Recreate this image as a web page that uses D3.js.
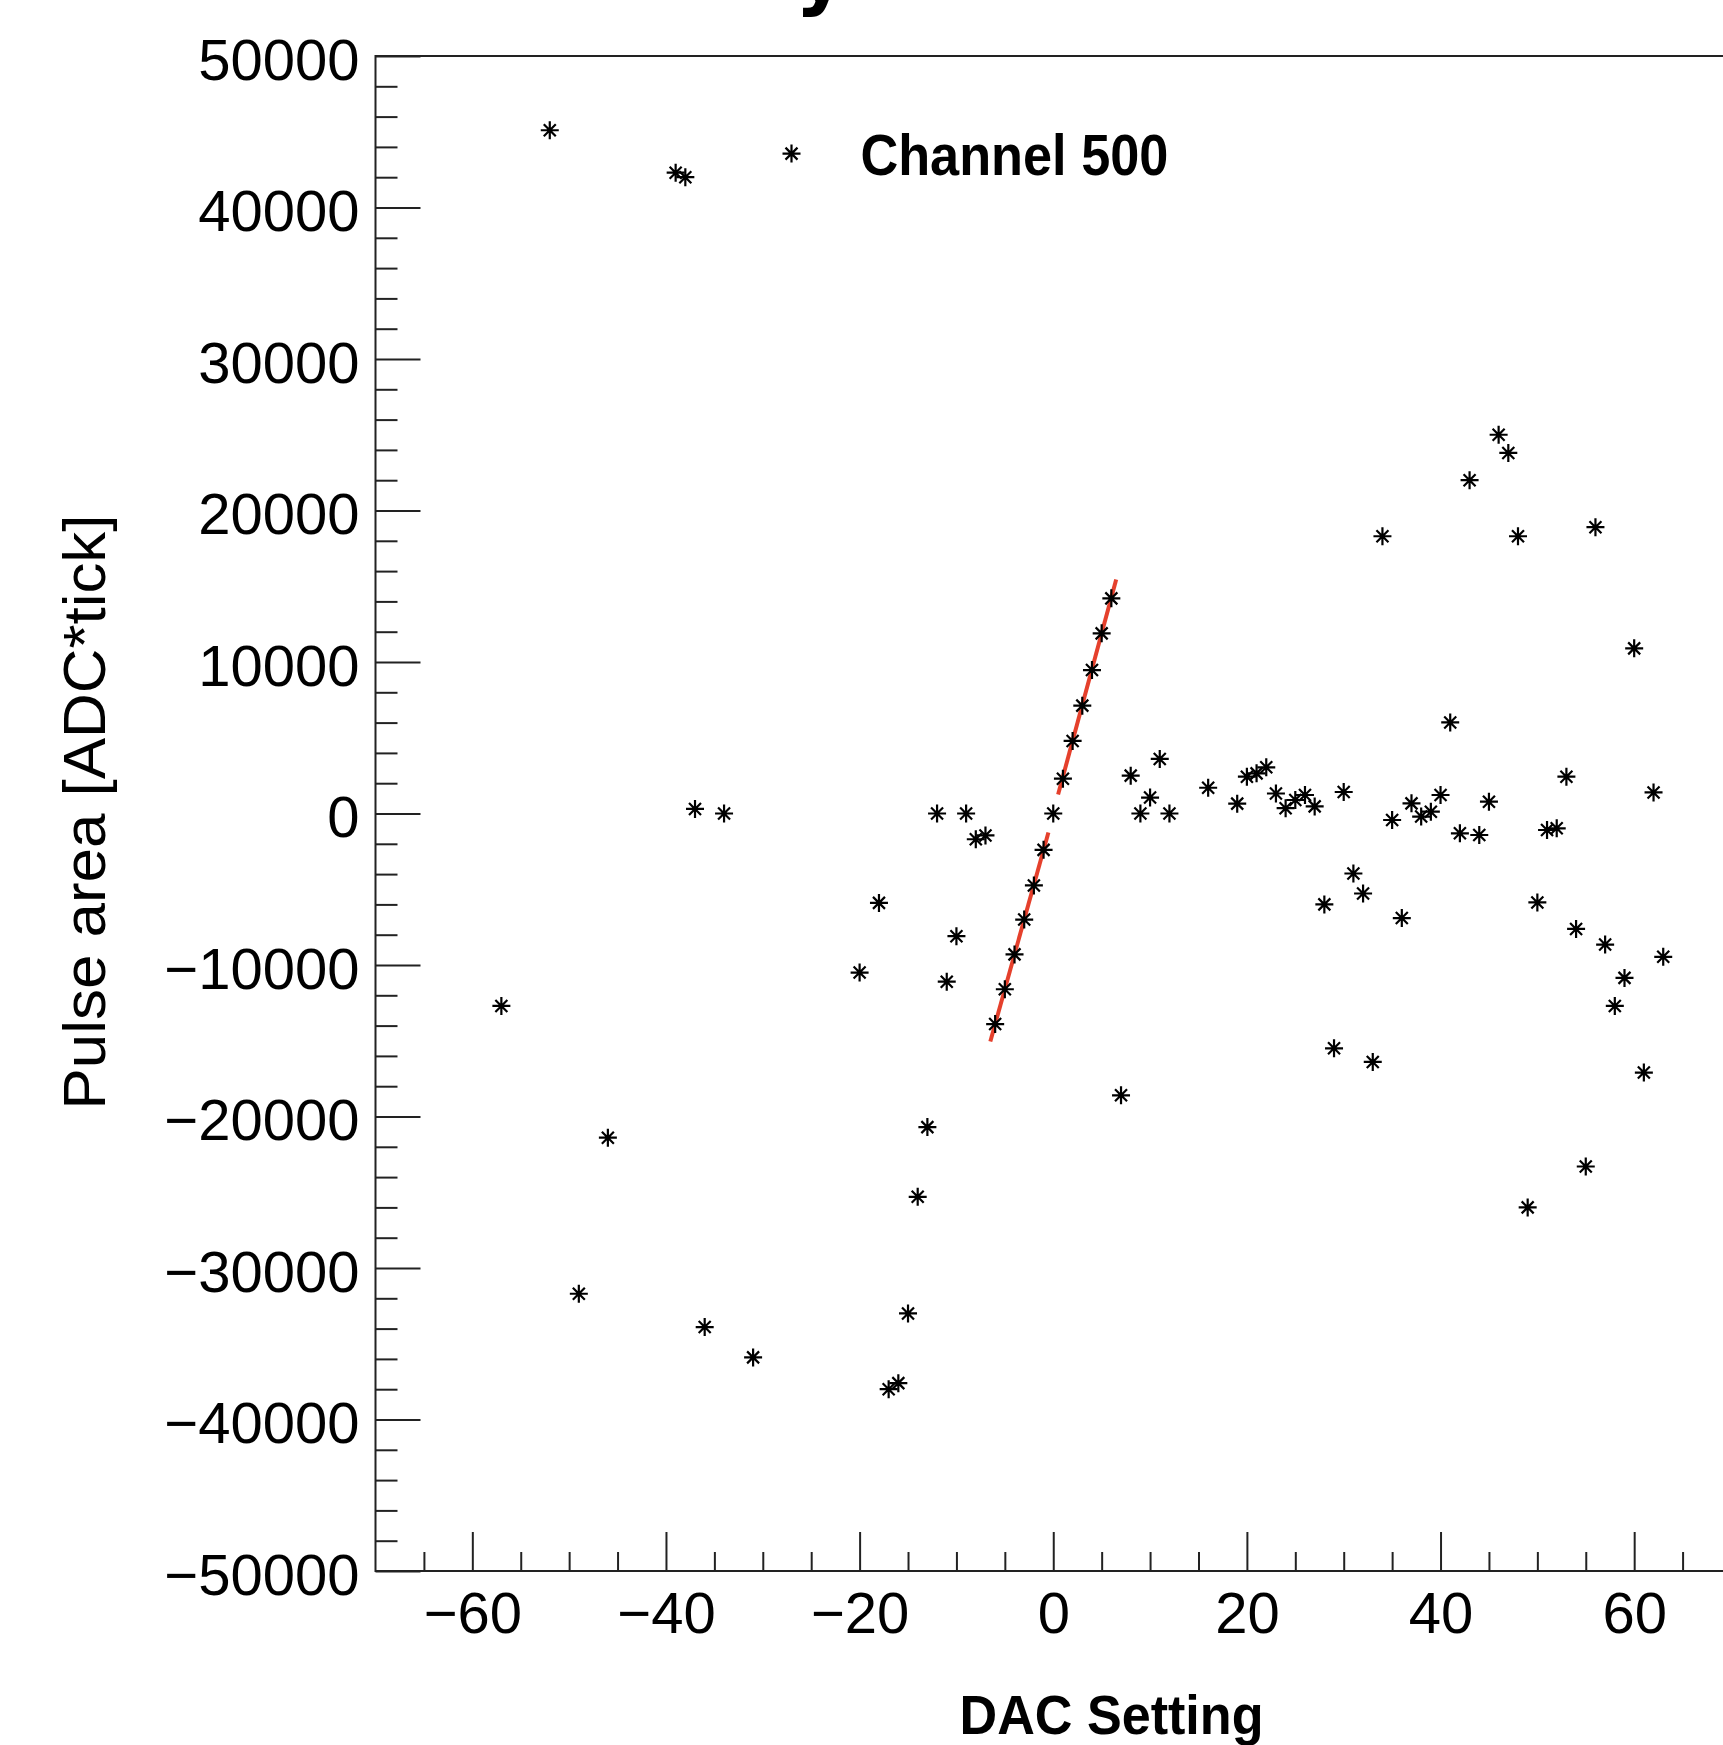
<!DOCTYPE html>
<html><head><meta charset="utf-8">
<script src="https://cdn.jsdelivr.net/npm/d3@7"></script>
<style>body{margin:0;background:#fff}</style>
</head><body>
<svg id="c" width="1723" height="1745"></svg>
<script>
// ---- data ----
const dacSetting = [-57,-52,-49,-46,-39,-38,-37,-36,-34,-31,-20,-18,-17,-16,-15,-14,-13,-12,-11,-10,-9,-8,-7,
  -6,-5,-4,-3,-2,-1,0,1,2,3,4,5,6,7,8,9,10,11,12,16,19,20,21,22,23,24,25,26,27,28,29,30,31,32,33,34,35,36,37,38,39,
  40,41,42,43,44,45,46,47,48,49,50,51,52,53,54,55,56,57,58,59,60,61,62,63];
const pulseArea = [-12700,45100,-31700,-21400,42300,42000,300,-33900,0,-35900,-10500,-5900,-38000,-37600,-33000,-25300,-20700,0,-11100,-8100,0,-1700,-1450,
  -13900,-11600,-9300,-7000,-4750,-2400,0,2300,4790,7120,9470,11890,14200,-18600,2500,0,1050,3600,0,1700,650,2430,2650,3050,1320,350,890,1220,470,-6000,-15500,1420,-3960,-5280,-16400,18300,-430,-6900,670,-200,120,
  1220,6010,-1310,22000,-1420,780,25000,23800,18300,-26000,-5870,-1090,-980,2430,-7620,-23300,18900,-8650,-12700,-10850,10900,-17100,1390,-9460];
const fitLowX = [-6.5, -0.5], fitLowY = [-15050, -1250];
const fitHighX = [0.5, 6.5], fitHighY = [1250, 15450];
const xTickValues = [-60,-40,-20,0,20,40,60];
const yTickValues = [-50000,-40000,-30000,-20000,-10000,0,10000,20000,30000,40000,50000];
const legendLabel = "Channel 500";
const xTitle = "DAC Setting";
const yTitle = "Pulse area [ADC*tick]";
const titleVisible = "y";

// ---- layout ----
const svg = d3.select("#c");
const FONT = "'Liberation Sans', Arial, Helvetica, sans-serif";
const L = 375.5, R = 1731, T = 56, B = 1571;
const x = d3.scaleLinear([-70, 70], [L, R]);
const y = d3.scaleLinear([-50000, 50000], [B, T]);

// cropped title (only descender visible, as in the reference)
svg.append("text").attr("x", 795).attr("y", 0)
  .attr("font-family", "'DejaVu Sans', sans-serif").attr("font-weight", "bold")
  .attr("font-size", 80).text(titleVisible);

// frame
svg.append("rect").attr("x", L).attr("y", T).attr("width", R - L).attr("height", B - T)
  .attr("fill", "none").attr("stroke", "#222").attr("stroke-width", 2);

// x axis minor ticks
const xMinor = d3.range(-65, 70, 5).filter(v => !xTickValues.includes(v));
svg.append("g").attr("transform", `translate(0,${B})`)
  .call(d3.axisBottom(x).tickValues(xMinor).tickSizeInner(-19).tickSizeOuter(0).tickFormat(""))
  .call(g => g.select(".domain").remove())
  .call(g => g.selectAll("line").attr("stroke", "#222").attr("stroke-width", 2));
// x axis major
svg.append("g").attr("transform", `translate(0,${B})`)
  .call(d3.axisBottom(x).tickValues(xTickValues).tickSizeInner(-39).tickSizeOuter(0).tickPadding(21))
  .call(g => g.select(".domain").remove())
  .call(g => g.selectAll("line").attr("stroke", "#222").attr("stroke-width", 2))
  .call(g => g.selectAll("text").attr("font-family", FONT).attr("font-size", 58).attr("fill", "#000"));

// y axis minor
const yMinor = d3.range(-48000, 50000, 2000).filter(v => !yTickValues.includes(v));
svg.append("g").attr("transform", `translate(${L},0)`)
  .call(d3.axisLeft(y).tickValues(yMinor).tickSizeInner(-22).tickSizeOuter(0).tickFormat(""))
  .call(g => g.select(".domain").remove())
  .call(g => g.selectAll("line").attr("stroke", "#222").attr("stroke-width", 2));
// y axis major
svg.append("g").attr("transform", `translate(${L},0)`)
  .call(d3.axisLeft(y).tickValues(yTickValues).tickSizeInner(-45).tickSizeOuter(0).tickPadding(16).tickFormat(d3.format("d")))
  .call(g => g.select(".domain").remove())
  .call(g => g.selectAll("line").attr("stroke", "#222").attr("stroke-width", 2))
  .call(g => g.selectAll("text").attr("font-family", FONT).attr("font-size", 58).attr("fill", "#000").attr("dy", "0.4em"));

// axis titles
svg.append("text").attr("x", 959.5).attr("y", 1734)
  .attr("font-family", FONT).attr("font-weight", "bold").attr("font-size", 56)
  .attr("textLength", 304).attr("lengthAdjust", "spacingAndGlyphs").text(xTitle);
svg.append("text").attr("transform", "translate(105,812) rotate(-90)")
  .attr("text-anchor", "middle")
  .attr("font-family", FONT).attr("font-size", 60)
  .attr("textLength", 595).attr("lengthAdjust", "spacingAndGlyphs").text(yTitle);

// fit lines
const line = d3.line().x(d => x(d[0])).y(d => y(d[1]));
[[fitLowX, fitLowY], [fitHighX, fitHighY]].forEach(([fx, fy]) => {
  svg.append("path").attr("d", line(fx.map((v, i) => [v, fy[i]])))
    .attr("fill", "none").attr("stroke", "#e5402c").attr("stroke-width", 4);
});

// markers (asterisk)
const star = "M-9,0H9M0,-9V9M-6,-6L6,6M-6,6L6,-6";
svg.append("g").selectAll("path").data(dacSetting.map((v, i) => [v, pulseArea[i]]))
  .join("path").attr("d", star)
  .attr("transform", d => `translate(${x(d[0])},${y(d[1])})`)
  .attr("fill", "none").attr("stroke", "#000").attr("stroke-width", 2.2);

// legend
svg.append("path").attr("d", star).attr("transform", "translate(791.5,153.6)")
  .attr("fill", "none").attr("stroke", "#000").attr("stroke-width", 2.2);
svg.append("text").attr("x", 860.4).attr("y", 175)
  .attr("font-family", FONT).attr("font-weight", "bold").attr("font-size", 57)
  .attr("textLength", 308).attr("lengthAdjust", "spacingAndGlyphs").text(legendLabel);
</script>
</body></html>
